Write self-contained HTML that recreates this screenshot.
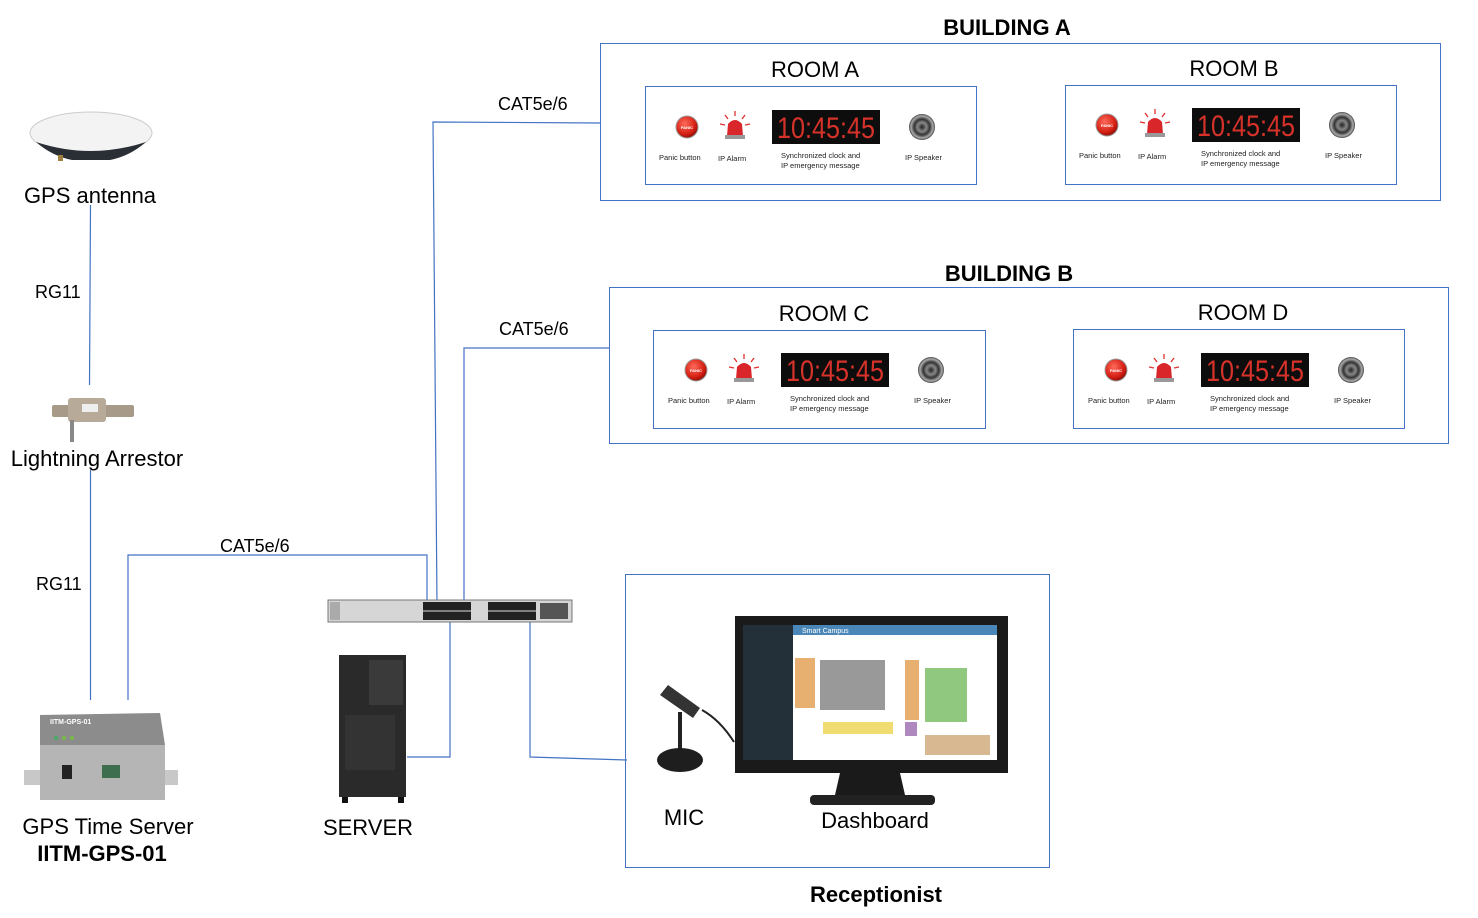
<!DOCTYPE html>
<html><head><meta charset="utf-8"><style>
body{margin:0;background:#fff}
svg{display:block}
text{font-family:"Liberation Sans","DejaVu Sans",sans-serif}
</style></head><body>
<svg width="1478" height="918" viewBox="0 0 1478 918" xmlns="http://www.w3.org/2000/svg">
<defs>
<radialGradient id="pb" cx="0.4" cy="0.35" r="0.7"><stop offset="0" stop-color="#ff6a5a"/><stop offset="0.7" stop-color="#d31d12"/><stop offset="1" stop-color="#7a0c06"/></radialGradient>
<radialGradient id="sp" cx="0.5" cy="0.5" r="0.5"><stop offset="0" stop-color="#222"/><stop offset="0.35" stop-color="#888"/><stop offset="0.6" stop-color="#333"/><stop offset="0.85" stop-color="#aaa"/><stop offset="1" stop-color="#444"/></radialGradient>
<g id="room">
  <circle cx="42" cy="41" r="11" fill="url(#pb)" stroke="#999" stroke-width="1"/>
  <text x="42" y="43" font-size="4" fill="#fff" text-anchor="middle" font-weight="bold">PANIC</text>
  <text x="14" y="74" font-size="7.5" fill="#222">Panic button</text>
  <path d="M82 50 L83 38 Q90 30 97 38 L98 50 Z" fill="#d8262a"/>
  <rect x="80" y="49" width="20" height="4" fill="#999"/>
  <g stroke="#e03030" stroke-width="1.3"><line x1="90" y1="25" x2="90" y2="30"/><line x1="80" y1="29" x2="83" y2="33"/><line x1="100" y1="29" x2="97" y2="33"/><line x1="75" y1="38" x2="80" y2="39"/><line x1="105" y1="38" x2="100" y2="39"/></g>
  <text x="73" y="75" font-size="7.5" fill="#222">IP Alarm</text>
  <rect x="127" y="24" width="108" height="34" fill="#0d0d0d"/>
  <text x="181" y="52" font-size="30" fill="#d6322a" text-anchor="middle" font-family="Liberation Mono,monospace" textLength="98" lengthAdjust="spacingAndGlyphs">10:45:45</text>
  <text x="136" y="72" font-size="7.5" fill="#222">Synchronized clock and</text>
  <text x="136" y="82" font-size="7.5" fill="#222">IP emergency message</text>
  <circle cx="277" cy="41" r="13" fill="url(#sp)"/>
  <text x="260" y="74" font-size="7.5" fill="#222">IP Speaker</text>
</g>
</defs>

<!-- Buildings -->
<text x="1007" y="35" font-size="22" font-weight="bold" text-anchor="middle">BUILDING A</text>
<rect x="600.5" y="43.5" width="840" height="157" fill="none" stroke="#4472c4"/>
<text x="815" y="77" font-size="22" text-anchor="middle">ROOM A</text>
<text x="1234" y="76" font-size="22" text-anchor="middle">ROOM B</text>
<rect x="645.5" y="86.5" width="331" height="98" fill="none" stroke="#4472c4"/>
<rect x="1065.5" y="85.5" width="331" height="99" fill="none" stroke="#4472c4"/>
<use href="#room" x="645" y="86"/>
<use href="#room" x="1065" y="84"/>

<text x="1009" y="281" font-size="22" font-weight="bold" text-anchor="middle">BUILDING B</text>
<rect x="609.5" y="287.5" width="839" height="156" fill="none" stroke="#4472c4"/>
<text x="824" y="321" font-size="22" text-anchor="middle">ROOM C</text>
<text x="1243" y="320" font-size="22" text-anchor="middle">ROOM D</text>
<rect x="653.5" y="330.5" width="332" height="98" fill="none" stroke="#4472c4"/>
<rect x="1073.5" y="329.5" width="331" height="99" fill="none" stroke="#4472c4"/>
<use href="#room" x="654" y="329"/>
<use href="#room" x="1074" y="329"/>

<!-- Connectors -->
<g fill="none" stroke="#4472c4" stroke-width="1.2">
<line x1="90.5" y1="205" x2="89.5" y2="385"/>
<line x1="90.5" y1="470" x2="90.5" y2="700"/>
<polyline points="128,700 128,555 427,555 427,605"/>
<polyline points="600,123 433,122 437,605"/>
<polyline points="609,348 464,348 464,605"/>
<polyline points="450,622 450,757 407,757"/>
<polyline points="530,622 530,757 627,760"/>
</g>
<text x="35" y="298" font-size="18">RG11</text>
<text x="36" y="590" font-size="18">RG11</text>
<text x="220" y="552" font-size="18">CAT5e/6</text>
<text x="498" y="110" font-size="18">CAT5e/6</text>
<text x="499" y="335" font-size="18">CAT5e/6</text>

<!-- GPS antenna -->
<ellipse cx="91" cy="133" rx="61" ry="21" fill="#f3f3f3" stroke="#ccc"/>
<path d="M36 142 Q91 160 146 142 Q130 156 110 160 L72 160 Q52 156 36 142Z" fill="#2a2f35"/>
<rect x="58" y="155" width="5" height="6" fill="#a08040"/>
<text x="90" y="203" font-size="22" text-anchor="middle">GPS antenna</text>

<!-- Lightning arrestor -->
<rect x="52" y="405" width="82" height="12" fill="#a89a88" rx="2"/>
<rect x="68" y="398" width="38" height="24" fill="#b8aa98" rx="3"/>
<rect x="82" y="404" width="16" height="8" fill="#eee"/>
<rect x="70" y="420" width="4" height="22" fill="#888"/>
<text x="97" y="466" font-size="22" text-anchor="middle">Lightning Arrestor</text>

<!-- GPS time server -->
<path d="M24 770 L24 785 L178 785 L178 770Z" fill="#c8c8c8"/>
<path d="M40 715 L160 713 L165 745 L40 748Z" fill="#8c8c8c"/>
<rect x="40" y="745" width="125" height="55" fill="#b5b5b5"/>
<rect x="62" y="765" width="10" height="14" fill="#222"/>
<rect x="102" y="765" width="18" height="13" fill="#3d6f4e"/>
<circle cx="56" cy="738" r="2" fill="#4a6"/><circle cx="64" cy="738" r="2" fill="#7b4"/><circle cx="72" cy="738" r="2" fill="#7b4"/>
<text x="50" y="724" font-size="7" fill="#fff" font-weight="bold">IITM-GPS-01</text>
<text x="108" y="834" font-size="22" text-anchor="middle">GPS Time Server</text>
<text x="102" y="861" font-size="22" font-weight="bold" text-anchor="middle">IITM-GPS-01</text>

<!-- Switch -->
<rect x="328" y="600" width="244" height="22" fill="#d6d6d6" stroke="#777"/>
<rect x="330" y="602" width="10" height="18" fill="#aaa"/>
<rect x="423" y="602" width="48" height="18" fill="#222"/>
<rect x="488" y="602" width="48" height="18" fill="#222"/>
<rect x="540" y="603" width="28" height="16" fill="#555"/>
<g stroke="#ddd" stroke-width="1"><line x1="423" y1="611" x2="471" y2="611"/><line x1="488" y1="611" x2="536" y2="611"/></g>

<!-- Server tower -->
<rect x="339" y="655" width="67" height="142" fill="#2a2a2a"/>
<rect x="369" y="660" width="34" height="45" fill="#3a3a3a"/>
<rect x="345" y="715" width="50" height="55" fill="#333"/>
<rect x="342" y="797" width="6" height="6" fill="#111"/><rect x="398" y="797" width="6" height="6" fill="#111"/>
<text x="368" y="835" font-size="22" text-anchor="middle">SERVER</text>

<!-- Receptionist -->
<rect x="625.5" y="574.5" width="424" height="293" fill="none" stroke="#4472c4"/>
<rect x="735" y="616" width="273" height="157" fill="#1a1a1a"/>
<rect x="743" y="625" width="254" height="135" fill="#fff"/>
<rect x="743" y="625" width="50" height="135" fill="#243039"/>
<rect x="793" y="625" width="204" height="10" fill="#4a87b8"/>
<text x="802" y="633" font-size="7" fill="#fff">Smart Campus</text>
<rect x="795" y="658" width="20" height="50" fill="#e8b070"/>
<rect x="820" y="660" width="65" height="50" fill="#999"/>
<rect x="925" y="668" width="42" height="54" fill="#90c880"/>
<rect x="905" y="660" width="14" height="60" fill="#e8b070"/>
<rect x="823" y="722" width="70" height="12" fill="#f0dc70"/>
<rect x="905" y="722" width="12" height="14" fill="#b088c0"/>
<rect x="925" y="735" width="65" height="20" fill="#d8b890"/>
<path d="M840 773 L900 773 L905 795 L835 795Z" fill="#1a1a1a"/>
<rect x="810" y="795" width="125" height="10" rx="4" fill="#222"/>
<path d="M668 685 L700 708 L693 718 L660 695Z" fill="#333"/>
<rect x="678" y="712" width="4" height="45" fill="#222"/>
<ellipse cx="680" cy="760" rx="23" ry="12" fill="#1e1e1e"/>
<path d="M702 710 Q720 720 734 742" fill="none" stroke="#222" stroke-width="2"/>
<text x="684" y="825" font-size="22" text-anchor="middle">MIC</text>
<text x="875" y="828" font-size="22" text-anchor="middle">Dashboard</text>
<text x="876" y="902" font-size="22" font-weight="bold" text-anchor="middle">Receptionist</text>
</svg>
</body></html>
